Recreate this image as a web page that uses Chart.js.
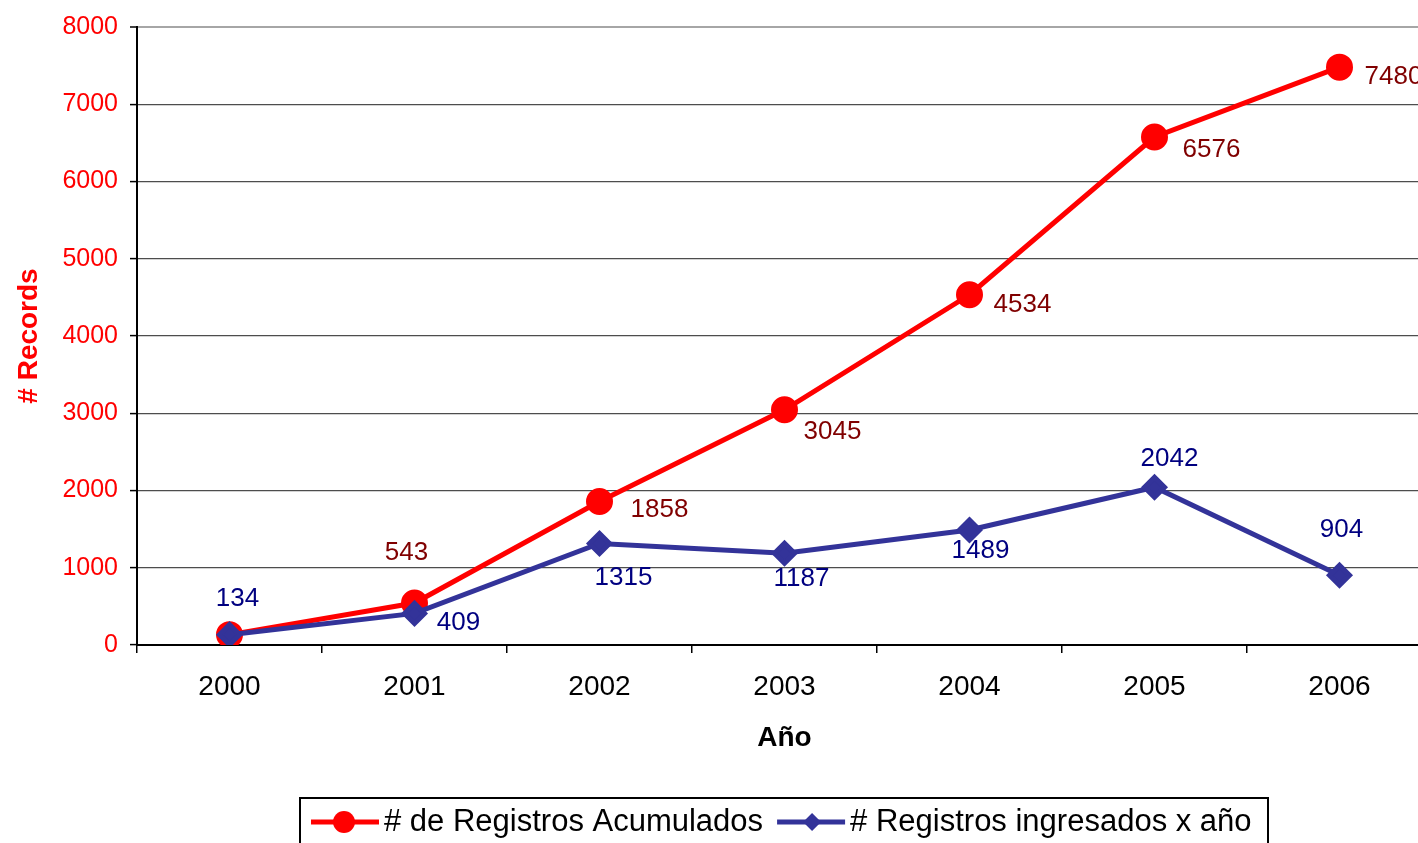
<!DOCTYPE html>
<html>
<head>
<meta charset="utf-8">
<script src="https://cdn.jsdelivr.net/npm/chart.js@4"></script>
<style>
  html, body { margin: 0; padding: 0; background: #fff; overflow: hidden; }
  #wrap { position: relative; width: 1448px; height: 843px; }
</style>
</head>
<body>
<div id="wrap"><canvas id="chart"></canvas></div>
<script>
const years       = ['2000', '2001', '2002', '2003', '2004', '2005', '2006'];
const acumulados  = [134, 543, 1858, 3045, 4534, 6576, 7480];
const porAnio     = [134, 409, 1315, 1187, 1489, 2042, 904];
const yTicks      = [0, 1000, 2000, 3000, 4000, 5000, 6000, 7000, 8000];

const RED  = '#FF0000';
const BLUE = '#333399';
const FONT = '"Liberation Sans", Arial, sans-serif';

// where each value label sits, relative to its point (text centre, px)
const redLabelPos  = [null, [-8, -50], [60, 8], [48, 22], [53, 10], [57, 13], [54, 10]];
const blueLabelPos = [[8, -36], [44, 9], [24, 34], [17, 26], [11, 21], [15, -28], [2, -45]];

const valueLabels = {
  id: 'valueLabels',
  afterDatasetsDraw(chart) {
    const ctx = chart.ctx;
    ctx.save();
    ctx.font = '26px ' + FONT;
    ctx.textAlign = 'center';
    ctx.textBaseline = 'middle';
    chart.data.datasets.forEach((ds, di) => {
      const meta = chart.getDatasetMeta(di);
      const pos = ds.labelPos;
      meta.data.forEach((pt, i) => {
        if (!pos[i]) return;
        ctx.fillStyle = ds.labelColor;
        ctx.fillText(String(ds.data[i]), pt.x + pos[i][0], pt.y + pos[i][1]);
      });
    });
    ctx.restore();
  }
};

// Excel-like boxed legend at the bottom (line + marker + text)
const boxLegend = {
  id: 'boxLegend',
  afterDraw(chart) {
    const ctx = chart.ctx;
    const items = chart.data.datasets.slice().sort((a, b) => a.legendIndex - b.legendIndex);
    ctx.save();
    ctx.lineWidth = 2;
    ctx.strokeStyle = '#000';
    ctx.strokeRect(300, 798, 968, 70);
    ctx.font = '31px ' + FONT;
    ctx.textBaseline = 'middle';
    let x = 311;
    const y = 822;
    items.forEach(ds => {
      ctx.strokeStyle = ds.borderColor;
      ctx.lineWidth = 5;
      ctx.beginPath();
      ctx.moveTo(x, y); ctx.lineTo(x + 68, y);
      ctx.stroke();
      ctx.fillStyle = ds.pointBackgroundColor;
      ctx.beginPath();
      if (ds.pointStyle === 'circle') {
        ctx.arc(x + 33, y, 11, 0, Math.PI * 2);
      } else {
        ctx.moveTo(x + 35, y - 9); ctx.lineTo(x + 44, y);
        ctx.lineTo(x + 35, y + 9); ctx.lineTo(x + 26, y);
        ctx.closePath();
      }
      ctx.fill();
      ctx.fillStyle = '#000';
      ctx.textAlign = 'left';
      ctx.fillText(ds.label, x + 73, y);
      x += 73 + ctx.measureText(ds.label).width + 14;
    });
    ctx.restore();
  }
};

new Chart(document.getElementById('chart'), {
  type: 'line',
  data: {
    labels: years,
    datasets: [
      {
        label: '# de Registros Acumulados',
        data: acumulados,
        borderColor: RED,
        backgroundColor: RED,
        pointBackgroundColor: RED,
        pointBorderColor: RED,
        pointStyle: 'circle',
        pointRadius: 11,
        borderWidth: 5,
        tension: 0,
        order: 2,
        legendIndex: 0,
        labelColor: '#800000',
        labelPos: redLabelPos
      },
      {
        label: '# Registros ingresados x año',
        data: porAnio,
        borderColor: BLUE,
        backgroundColor: BLUE,
        pointBackgroundColor: BLUE,
        pointBorderColor: BLUE,
        pointStyle: 'rectRot',
        pointRadius: 10,
        borderWidth: 5,
        tension: 0,
        order: 1,
        legendIndex: 1,
        labelColor: '#000080',
        labelPos: blueLabelPos
      }
    ]
  },
  options: {
    responsive: true,
    maintainAspectRatio: false,
    animation: false,
    layout: { padding: { top: 26, right: 7, bottom: 84, left: 0 } },
    plugins: { legend: { display: false }, tooltip: { enabled: false } },
    scales: {
      x: {
        offset: true,
        grid: { offset: true, drawOnChartArea: false, drawTicks: true, tickLength: 8, color: '#000', lineWidth: 1.5 },
        border: { color: '#000', width: 2 },
        ticks: { color: '#000', font: { family: FONT, size: 28 }, padding: 17, maxRotation: 0 },
        title: { display: true, text: 'Año', color: '#000', font: { family: FONT, size: 28, weight: 'bold' }, padding: { top: 4, bottom: 4 } },
        afterFit(scale) { scale.height = 114; }
      },
      y: {
        min: 0,
        max: 8000,
        afterBuildTicks(scale) { scale.ticks = yTicks.map(v => ({ value: v })); },
        grid: {
          color: c => (c.tick && c.tick.value === 8000) ? '#a6a6a6' : '#4d4d4d',
          lineWidth: c => (c.tick && c.tick.value === 8000) ? 2 : 1.2,
          tickColor: '#000',
          tickWidth: 1.5,
          tickLength: 7
        },
        border: { color: '#000', width: 2 },
        ticks: { color: RED, font: { family: FONT, size: 25 }, padding: 12, callback: v => String(v) },
        title: { display: true, text: '# Records', color: RED, font: { family: FONT, size: 28, weight: 'bold' }, padding: { top: 12, bottom: 0 } },
        afterFit(scale) { scale.width = 137; }
      }
    }
  },
  plugins: [valueLabels, boxLegend]
});
</script>
</body>
</html>
